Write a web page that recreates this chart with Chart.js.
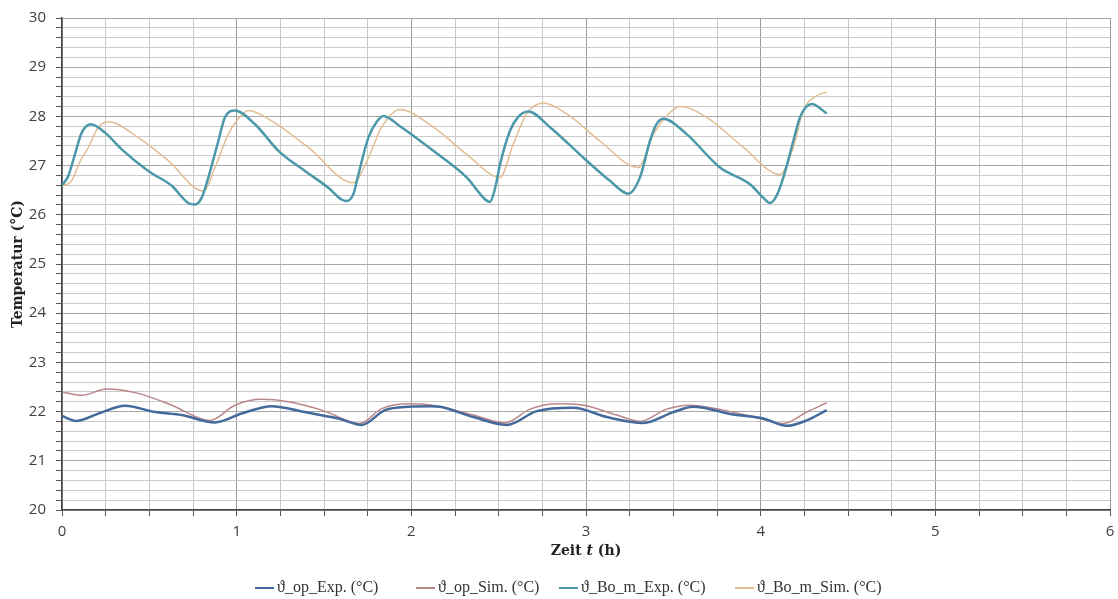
<!DOCTYPE html>
<html>
<head>
<meta charset="utf-8">
<script src="https://cdn.jsdelivr.net/npm/chart.js@4/dist/chart.umd.min.js"></script>
<style>
  html, body { margin: 0; padding: 0; background: #fff; }
  #wrap { width: 1118px; height: 599px; position: relative; }
</style>
</head>
<body>
<div id="wrap"><canvas id="c" width="1118" height="599"></canvas></div>
<script>
// Zeit t in Stunden und Temperaturen in °C
const tOpExp = [0, 0.084, 0.208, 0.361, 0.532, 0.685, 0.876, 1.029, 1.200, 1.391, 1.582, 1.716, 1.849, 1.983, 2.117, 2.164, 2.355, 2.546, 2.718, 2.928, 3.119, 3.328, 3.500, 3.614, 3.843, 4.015, 4.149, 4.263, 4.378];
const vOpExp = [21.91, 21.81, 21.96, 22.12, 21.99, 21.93, 21.78, 21.96, 22.11, 21.99, 21.86, 21.73, 22.03, 22.10, 22.11, 22.10, 21.89, 21.73, 22.01, 22.08, 21.89, 21.77, 21.99, 22.10, 21.94, 21.86, 21.71, 21.82, 22.03];

const tOpSim = [0, 0.113, 0.256, 0.437, 0.628, 0.847, 0.990, 1.143, 1.296, 1.487, 1.706, 1.830, 1.983, 2.117, 2.355, 2.536, 2.680, 2.833, 2.985, 3.176, 3.309, 3.462, 3.595, 3.786, 3.996, 4.130, 4.263, 4.378];
const vOpSim = [22.40, 22.33, 22.46, 22.37, 22.13, 21.82, 22.13, 22.25, 22.20, 22.03, 21.76, 22.06, 22.16, 22.13, 21.93, 21.77, 22.05, 22.16, 22.13, 21.93, 21.80, 22.05, 22.13, 22.03, 21.86, 21.76, 21.99, 22.18];

const tBoExp = [0, 0.036, 0.074, 0.113, 0.166, 0.246, 0.342, 0.494, 0.628, 0.723, 0.761, 0.800, 0.838, 0.895, 0.933, 0.990, 1.105, 1.239, 1.391, 1.525, 1.601, 1.630, 1.668, 1.697, 1.754, 1.800, 1.840, 1.935, 2.126, 2.317, 2.420, 2.450, 2.480, 2.508, 2.565, 2.610, 2.670, 2.794, 2.985, 3.137, 3.242, 3.309, 3.366, 3.400, 3.443, 3.576, 3.767, 3.939, 4.020, 4.053, 4.090, 4.130, 4.187, 4.225, 4.292, 4.378];
const vBoExp = [26.60, 26.79, 27.23, 27.67, 27.84, 27.67, 27.33, 26.89, 26.59, 26.24, 26.21, 26.35, 26.76, 27.50, 27.98, 28.12, 27.84, 27.30, 26.89, 26.55, 26.31, 26.28, 26.42, 26.82, 27.57, 27.88, 28.01, 27.80, 27.30, 26.76, 26.32, 26.26, 26.55, 27.03, 27.71, 27.98, 28.10, 27.78, 27.16, 26.69, 26.43, 26.76, 27.50, 27.82, 27.95, 27.64, 26.96, 26.62, 26.33, 26.24, 26.38, 26.76, 27.50, 27.98, 28.25, 28.06];

const tBoSim = [0, 0.030, 0.055, 0.100, 0.151, 0.208, 0.265, 0.437, 0.609, 0.809, 0.876, 0.952, 1.009, 1.067, 1.200, 1.410, 1.668, 1.754, 1.830, 1.935, 2.126, 2.317, 2.508, 2.584, 2.660, 2.756, 2.890, 3.080, 3.300, 3.386, 3.462, 3.538, 3.691, 3.901, 4.111, 4.187, 4.244, 4.330, 4.378];
const vBoSim = [26.60, 26.62, 26.69, 27.06, 27.37, 27.78, 27.89, 27.57, 27.10, 26.48, 26.96, 27.64, 27.95, 28.12, 27.91, 27.37, 26.65, 27.16, 27.78, 28.14, 27.78, 27.23, 26.76, 27.44, 28.05, 28.27, 28.05, 27.50, 26.96, 27.64, 28.01, 28.20, 27.98, 27.37, 26.82, 27.37, 28.12, 28.44, 28.49];

const seriesNames = ['ϑ_op_Exp. (°C)', 'ϑ_op_Sim. (°C)', 'ϑ_Bo_m_Exp. (°C)', 'ϑ_Bo_m_Sim. (°C)'];
const seriesColors = ['#44699b', '#b9878a', '#4b98aa', '#e2bd94'];
const seriesWidths = [2.5, 1.5, 2.5, 1.5];

const xMin = 0, xMax = 6, xStep = 0.25;
const yMin = 20, yMax = 30, yStep = 0.2;

const pts = (ts, vs) => ts.map((t, i) => ({ x: t, y: vs[i] }));
const tables = [pts(tOpExp, vOpExp), pts(tOpSim, vOpSim), pts(tBoExp, vBoExp), pts(tBoSim, vBoSim)];

const isWhole = v => Math.abs(v - Math.round(v)) < 1e-6;

const datasets = tables.map((d, i) => ({
  label: seriesNames[i],
  data: d,
  borderColor: seriesColors[i],
  backgroundColor: seriesColors[i],
  borderWidth: seriesWidths[i],
  pointRadius: 0,
  fill: false,
  cubicInterpolationMode: 'monotone'
}));

// Legendeneinträge: linke Kante jedes Eintrags in Pixeln
const legendStarts = [255, 416, 559, 735];

// Achsentitel und Legende
const decorations = {
  id: 'decorations',
  afterDraw(chart) {
    const ctx = chart.ctx;
    const area = chart.chartArea;
    const fam = '"DejaVu Serif"';
    ctx.save();
    ctx.fillStyle = '#222';
    ctx.textBaseline = 'middle';

    // y-Achsentitel
    ctx.save();
    ctx.translate(18, (area.top + area.bottom) / 2);
    ctx.rotate(-Math.PI / 2);
    ctx.font = 'bold 14px ' + fam;
    ctx.textAlign = 'center';
    ctx.fillText('Temperatur (°C)', 0, 0);
    ctx.restore();

    // x-Achsentitel mit kursivem t
    const parts = [['Zeit ', 'bold 14px ' + fam], ['t', 'bold italic 14px ' + fam], [' (h)', 'bold 14px ' + fam]];
    let total = 0;
    parts.forEach(p => { ctx.font = p[1]; total += ctx.measureText(p[0]).width; });
    let x = (area.left + area.right) / 2 - total / 2;
    ctx.textAlign = 'left';
    parts.forEach(p => { ctx.font = p[1]; ctx.fillText(p[0], x, 551); x += ctx.measureText(p[0]).width; });

    // Legende
    const lineLen = 19, lineGap = 3, ly = 588;
    ctx.font = '16px "Liberation Serif"';
    chart.data.datasets.forEach((ds, i) => {
      const lx = legendStarts[i];
      ctx.strokeStyle = ds.borderColor;
      ctx.lineWidth = 2;
      ctx.beginPath();
      ctx.moveTo(lx, ly);
      ctx.lineTo(lx + lineLen, ly);
      ctx.stroke();
      ctx.fillStyle = '#333';
      ctx.fillText(ds.label, lx + lineLen + lineGap, ly);
    });
    ctx.restore();
  }
};

new Chart(document.getElementById('c'), {
  type: 'line',
  data: { datasets },
  options: {
    responsive: false,
    animation: false,
    layout: { padding: { top: 18, right: 8, bottom: 0, left: 0 } },
    plugins: { legend: { display: false }, tooltip: { enabled: false } },
    scales: {
      x: {
        type: 'linear',
        min: xMin, max: xMax,
        afterFit: s => { s.height = 89; s.paddingLeft = 0; s.paddingRight = 0; },
        ticks: {
          stepSize: xStep,
          autoSkip: false,
          maxRotation: 0,
          padding: 7,
          color: '#404040',
          font: { family: '"Open Sans"', size: 15 },
          callback: v => isWhole(v) ? String(Math.round(v)) : ''
        },
        grid: {
          color: c => isWhole(c.tick.value) ? '#9a9a9a' : '#cacaca',
          lineWidth: 1,
          tickColor: '#555',
          tickLength: 6
        },
        border: { color: '#444', width: 1.5 }
      },
      y: {
        min: yMin, max: yMax,
        afterFit: s => { s.width = 62; s.paddingTop = 0; s.paddingBottom = 0; },
        ticks: {
          stepSize: yStep,
          autoSkip: false,
          padding: 10,
          color: '#404040',
          font: { family: '"Open Sans"', size: 15 },
          callback: v => isWhole(v) ? String(Math.round(v)) : ''
        },
        grid: {
          color: c => isWhole(c.tick.value) ? '#a8a8a8' : '#cacaca',
          lineWidth: 1,
          tickColor: '#555',
          tickLength: 6
        },
        border: { color: '#444', width: 1.5 }
      }
    }
  },
  plugins: [decorations]
});
</script>
</body>
</html>
